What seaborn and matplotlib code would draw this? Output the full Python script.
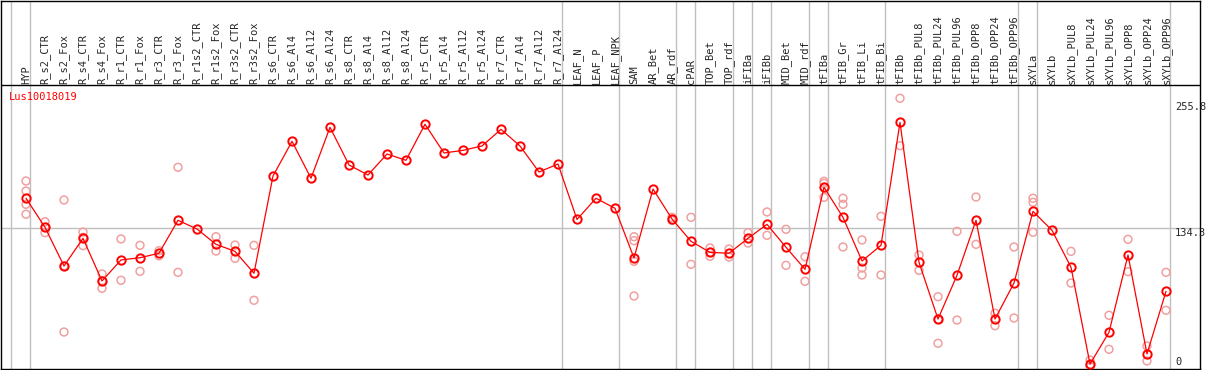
import numpy as np
import pandas as pd
import seaborn as sns
import matplotlib.pyplot as plt
from matplotlib.transforms import offset_copy

# expression profile of one gene across samples
gene = "Lus10018019"

categories = [
    "HYP", "R_s2_CTR", "R_s2_Fox", "R_s4_CTR", "R_s4_Fox", "R_r1_CTR", "R_r1_Fox",
    "R_r3_CTR", "R_r3_Fox", "R_r1s2_CTR", "R_r1s2_Fox", "R_r3s2_CTR", "R_r3s2_Fox",
    "R_s6_CTR", "R_s6_Al4", "R_s6_Al12", "R_s6_Al24", "R_s8_CTR", "R_s8_Al4",
    "R_s8_Al12", "R_s8_Al24", "R_r5_CTR", "R_r5_Al4", "R_r5_Al12", "R_r5_Al24",
    "R_r7_CTR", "R_r7_Al4", "R_r7_Al12", "R_r7_Al24", "LEAF_N", "LEAF_P", "LEAF_NPK",
    "SAM", "AR_Bet", "AR_rdf", "cPAR", "TOP_Bet", "TOP_rdf", "iFIBa", "iFIBb",
    "MID_Bet", "MID_rdf", "tFIBa", "tFIB_Gr", "tFIB_Li", "tFIB_Bi", "tFIBb",
    "tFIBb_PUL8", "tFIBb_PUL24", "tFIBb_PUL96", "tFIBb_OPP8", "tFIBb_OPP24",
    "tFIBb_OPP96", "sXYLa", "sXYLb", "sXYLb_PUL8", "sXYLb_PUL24", "sXYLb_PUL96",
    "sXYLb_OPP8", "sXYLb_OPP24", "sXYLb_OPP96",
]

mean_expr = [
    163.3, 134.7, 96.6, 123.8, 81.8, 102.5, 104.7, 109.1, 141.6, 133.0, 117.9, 111.0, 89.4,
    185.2, 219.4, 183.0, 233.2, 196.1, 186.2, 206.9, 200.7, 236.2, 207.9, 210.5, 214.8,
    231.2, 214.8, 189.2, 197.0, 142.4, 163.3, 153.4,
    104.4, 172.4, 142.9, 120.9, 110.0, 109.1, 123.8, 137.6, 115.0, 93.3,
    174.1, 144.5, 101.5, 116.9, 238.1, 100.2, 44.3, 87.4, 141.6, 44.3, 79.8,
    150.4, 131.7, 95.3, 0.0, 31.2, 107.4, 9.9, 71.6,
]

rep_expr = [
    [180.3, 170.4, 157.3, 147.5], [140.2, 134.7, 129.4], [161.6, 96.6, 31.5],
    [130.0, 124.8, 116.6], [88.7, 82.0, 74.6], [123.2, 82.5], [116.9, 91.3],
    [111.6, 106.6], [193.8, 90.3], [], [125.4, 111.3], [117.2, 104.1], [116.9, 62.8],
    [], [], [], [], [], [], [], [], [], [], [], [], [], [], [], [],
    [], [], [],
    [125.4, 121.5, 101.2, 67.0], [], [144.5, 141.5], [144.5, 98.2],
    [114.3, 110.0, 106.1], [113.3, 105.4], [129.4, 119.2], [149.8, 126.8],
    [132.7, 97.2], [105.7, 81.5],
    [180.0, 178.0, 164.2], [163.3, 157.3, 115.3], [122.2, 94.6, 87.7], [145.5, 87.7],
    [261.8, 215.1], [107.4, 92.3], [66.3, 44.0, 20.4], [130.7, 43.3], [164.5, 117.9],
    [50.0, 37.7], [115.3, 45.3],
    [163.3, 159.3, 129.8], [], [111.0, 79.8], [3.9, -2.0], [48.0, 14.5],
    [122.8, 91.0], [17.7, 3.0], [90.3, 52.9],
]

# last sample of each group (a separator is drawn after it)
group_ends = ["HYP", "R_r7_Al24", "LEAF_NPK", "AR_rdf", "cPAR", "TOP_rdf", "iFIBa",
              "iFIBb", "MID_rdf", "tFIBa", "tFIB_Bi", "tFIBb_OPP96", "sXYLa", "sXYLb_OPP96"]

y_marks = [255.8, 134.3, 0]
y_mark_labels = ["255.8", "134.3", "0"]

sns.set_style("white")
plt.rcParams['font.family'] = ['DejaVu Sans Mono']
fs = 7.5

W, H = 1209, 370
fig = plt.figure(figsize=(W / 100, H / 100), dpi=100)
# pixel geometry of the frame
left_px, right_px, top_px, bot_px = 1, 1200, 1, 369
ax = fig.add_axes([left_px / W, (H - bot_px) / H, (right_px - left_px) / W, (bot_px - top_px) / H])

x0_px, step_px = 26, 19          # first sample, spacing
zero_px, unit_px = 364, 1.015    # y of value 0, pixels per unit
ax.set_xlim((left_px - x0_px) / step_px, (right_px - x0_px) / step_px)
ax.set_ylim((zero_px - bot_px) / unit_px, (zero_px - top_px) / unit_px)
header_y = (zero_px - 85) / unit_px

pos = np.arange(len(categories))
grid_col = "#c0c0c0"

# group separators, spanning header and plot
ax.axvline(-1 + 0.22, color=grid_col, lw=1, zorder=1)
for name in group_ends:
    ax.axvline(categories.index(name) + 0.23, color=grid_col, lw=1, zorder=1)
ax.axhline(y_marks[1], color=grid_col, lw=1, zorder=1)
ax.axhline(header_y, color="black", lw=1, zorder=2)

reps = pd.DataFrame([(i, v) for i, r in enumerate(rep_expr) for v in r], columns=["pos", "expr"])
sns.scatterplot(data=reps, x="pos", y="expr", marker="o", s=32, fc="none",
                ec="#f0a0a0", linewidth=1.1, ax=ax, zorder=3)
sns.lineplot(x=pos, y=mean_expr, color="red", lw=0.9, marker="o", markersize=6.0,
             markerfacecolor="none", markeredgecolor="red", markeredgewidth=1.4,
             ax=ax, zorder=4)

for i, c in enumerate(categories):
    ax.text(i, header_y + 1.0, c, rotation=90, ha="center", va="bottom", fontsize=fs)

ax.text((9 - x0_px) / step_px, (zero_px - 97) / unit_px, gene,
        color="red", fontsize=fs, ha="left", va="center")

lab_x = (1175 - x0_px) / step_px
shifts = [-2.3, -5.0, 1.7]
for v, t, s in zip(y_marks, y_mark_labels, shifts):
    tr = offset_copy(ax.transData, fig=fig, x=0, y=s * 0.72, units="points")
    ax.text(lab_x, v, t, transform=tr, fontsize=fs, ha="left", va="center", clip_on=False,
            zorder=5)

for sp in ax.spines.values():
    sp.set_visible(True)
    sp.set_color("black")
    sp.set_linewidth(1)
ax.set_xticks([])
ax.set_yticks([])
ax.set_xlabel("")
ax.set_ylabel("")

fig.savefig("out.png", dpi=100, facecolor="white")
